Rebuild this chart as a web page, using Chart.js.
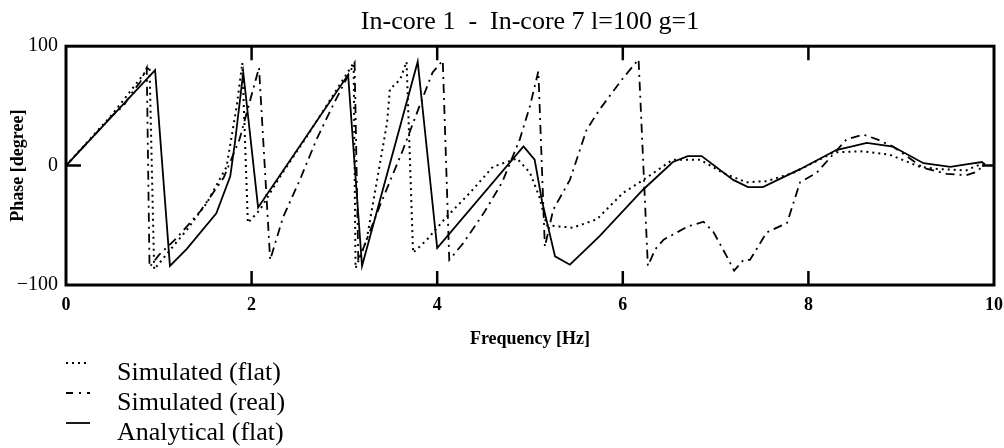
<!DOCTYPE html>
<html>
<head>
<meta charset="utf-8">
<script src="https://cdn.jsdelivr.net/npm/chart.js@4/dist/chart.umd.min.js"></script>
<style>
  html, body { margin: 0; padding: 0; background: #fff; }
  #wrap { position: relative; width: 1004px; height: 448px; }
</style>
</head>
<body>
<div id="wrap"><canvas id="c" width="1004" height="448"></canvas></div>
<script>
// ---- Data ----
const chartTitle = 'In-core 1  -  In-core 7 l=100 g=1';
const xTitle = 'Frequency [Hz]';
const yTitle = 'Phase [degree]';
const seriesNames = ['Simulated (flat)', 'Simulated (real)', 'Analytical (flat)'];

// Simulated (flat) – dotted
const flatFreq  = [0, 0.5, 0.9, 0.95, 1.15, 1.3, 1.52, 1.73, 1.84, 1.9, 1.96, 2.09, 2.3, 2.6, 3.1, 3.12, 3.24, 3.46, 3.49, 3.6, 3.67, 3.74, 3.89, 4.1, 4.35, 4.6, 4.86, 5.0, 5.1, 5.18, 5.46, 5.72, 6.0, 6.22, 6.54, 6.83, 7.08, 7.33, 7.55, 7.84, 8.27, 8.59, 8.88, 9.2, 9.42, 9.7, 9.85];
const flatPhase = [0, 43, 83, -87, -68, -54, -31, -1, 50, 86, -48, -37, -10, 25, 86, -86, -62, 36, 64, 72, 87, -73, -62, -43, -23, -1, 6, -6, -26, -50, -52, -45, -23, -12, 5, 5, -6, -14, -13, -6, 11, 12, 9, -1, -3, -4, 1];

// Simulated (real) – dash-dot
const realFreq  = [0, 0.3, 0.5, 0.62, 0.72, 0.8, 0.87, 0.9, 1.0, 1.2, 1.45, 1.7, 1.87, 2.08, 2.2, 2.34, 2.52, 2.7, 2.88, 3.11, 3.15, 3.38, 3.63, 3.81, 3.95, 4.06, 4.13, 4.28, 4.5, 4.7, 4.89, 5.0, 5.09, 5.16, 5.25, 5.43, 5.61, 5.75, 6.0, 6.17, 6.27, 6.35, 6.44, 6.7, 6.87, 6.98, 7.12, 7.2, 7.3, 7.37, 7.55, 7.77, 7.84, 7.91, 8.09, 8.41, 8.59, 8.74, 8.91, 9.24, 9.49, 9.7, 9.82, 9.9];
const realPhase = [0, 25, 42, 50, 62, 70, 82, -85, -75, -60, -38, -10, 22, 82, -79, -43, -12, 22, 51, 86, -80, -34, 13, 50, 78, 88, -79, -65, -40, -14, 22, 50, 79, -68, -37, -12, 30, 47, 73, 89, -84, -70, -62, -51, -47, -56, -76, -88, -79, -79, -56, -48, -31, -14, -6, 22, 26, 22, 16, -2, -7, -8, -5, 2];

// Analytical (flat) – solid
const anaFreq  = [0, 0.96, 1.12, 1.3, 1.62, 1.77, 1.82, 1.91, 2.07, 3.04, 3.19, 3.79, 4.0, 4.93, 5.05, 5.13, 5.27, 5.43, 5.75, 6.22, 6.54, 6.7, 6.85, 7.19, 7.35, 7.51, 7.91, 8.3, 8.63, 8.91, 9.24, 9.53, 9.7, 9.87, 9.9];
const anaPhase = [0, 80, -84, -70, -40, -9, 19, 78, -35, 76, -84, 87, -69, 16, 5, -30, -76, -83, -59, -20, 3, 8, 8, -12, -18, -18, -3, 13, 19, 16, 2, -1, 1, 3, 1];

const xTicks = [0, 2, 4, 6, 8, 10];
const yTicks = [-100, 0, 100];

// ---- build ----
function pts(xs, ys) { return xs.map((x, i) => ({ x: x, y: ys[i] })); }

const styles = [
  { dash: [2, 4], width: 2 },
  { dash: [9, 5, 2, 5], width: 1.8 },
  { dash: [], width: 1.8 }
];

const framePlugin = {
  id: 'frame',
  afterDraw(chart) {
    const { ctx, chartArea: a, scales } = chart;
    ctx.save();
    ctx.strokeStyle = '#000';
    // inward tick marks
    ctx.lineWidth = 2.5;
    xTicks.forEach(v => {
      if (v === 0 || v === 10) return;
      const px = scales.x.getPixelForValue(v);
      ctx.beginPath();
      ctx.moveTo(px, a.bottom); ctx.lineTo(px, a.bottom - 14);
      ctx.moveTo(px, a.top); ctx.lineTo(px, a.top + 14);
      ctx.stroke();
    });
    const y0 = scales.y.getPixelForValue(0);
    ctx.beginPath();
    ctx.moveTo(a.left, y0); ctx.lineTo(a.left + 15, y0);
    ctx.moveTo(a.right, y0); ctx.lineTo(a.right - 12, y0);
    ctx.stroke();
    // frame
    ctx.lineWidth = 3;
    ctx.strokeRect(a.left, a.top, a.right - a.left, a.bottom - a.top);
    // legend
    const rows = [366, 396, 426];
    ctx.font = '26px "Liberation Serif", "Times New Roman", serif';
    ctx.fillStyle = '#000';
    ctx.textBaseline = 'alphabetic';
    ctx.textAlign = 'left';
    chart.data.datasets.forEach((ds, i) => {
      const y = rows[i] - 3;
      ctx.beginPath();
      ctx.lineWidth = styles[i].width;
      ctx.setLineDash(i === 1 ? [7, 6, 2, 6] : styles[i].dash);
      ctx.moveTo(66, y); ctx.lineTo(90, y);
      ctx.stroke();
      ctx.setLineDash([]);
      ctx.fillText(ds.label, 117, rows[i] + 14);
    });
    ctx.restore();
  }
};

new Chart(document.getElementById('c'), {
  type: 'line',
  data: {
    datasets: [
      { label: seriesNames[0], data: pts(flatFreq, flatPhase) },
      { label: seriesNames[1], data: pts(realFreq, realPhase) },
      { label: seriesNames[2], data: pts(anaFreq, anaPhase) }
    ].map((d, i) => Object.assign(d, {
      borderColor: '#000',
      backgroundColor: '#000',
      borderWidth: styles[i].width,
      borderDash: styles[i].dash,
      pointRadius: 0,
      tension: 0,
      fill: false
    }))
  },
  options: {
    responsive: false,
    animation: false,
    events: [],
    layout: { padding: { left: 0, right: 10, top: 0, bottom: 93 } },
    plugins: {
      legend: { display: false },
      tooltip: { enabled: false },
      title: {
        display: true,
        fullSize: false,
        text: chartTitle,
        color: '#000',
        font: { family: '"Liberation Serif", "Times New Roman", serif', size: 26, weight: 'normal', lineHeight: 1.2 },
        padding: { top: 7, bottom: 8 }
      }
    },
    scales: {
      x: {
        type: 'linear',
        min: 0, max: 10,
        afterBuildTicks(s) { s.ticks = xTicks.map(v => ({ value: v })); },
        afterFit(s) { s.height = 70; s.paddingLeft = 0; s.paddingRight = 0; },
        grid: { display: false, drawTicks: false },
        border: { display: false },
        ticks: {
          color: '#000',
          padding: 10,
          maxRotation: 0,
          font: { family: '"Liberation Serif", "Times New Roman", serif', size: 18, weight: 'bold' }
        },
        title: {
          display: true,
          text: xTitle,
          color: '#000',
          padding: { top: 0, bottom: 5 },
          font: { family: '"Liberation Serif", "Times New Roman", serif', size: 18, weight: 'bold' }
        }
      },
      y: {
        type: 'linear',
        min: -100, max: 100,
        afterBuildTicks(s) { s.ticks = yTicks.map(v => ({ value: v })); },
        afterFit(s) { s.width = 66; s.paddingTop = 0; s.paddingBottom = 0; },
        grid: { display: false, drawTicks: false },
        border: { display: false },
        ticks: {
          color: '#000',
          padding: 8,
          callback: v => (v < 0 ? '\u2212' + Math.abs(v) : String(v)),
          font: { family: '"Liberation Serif", "Times New Roman", serif', size: 20, weight: 'normal' }
        },
        title: {
          display: true,
          text: yTitle,
          color: '#000',
          padding: { top: 8, bottom: 0 },
          font: { family: '"Liberation Serif", "Times New Roman", serif', size: 18, weight: 'bold' }
        }
      }
    }
  },
  plugins: [framePlugin]
});
</script>
</body>
</html>
